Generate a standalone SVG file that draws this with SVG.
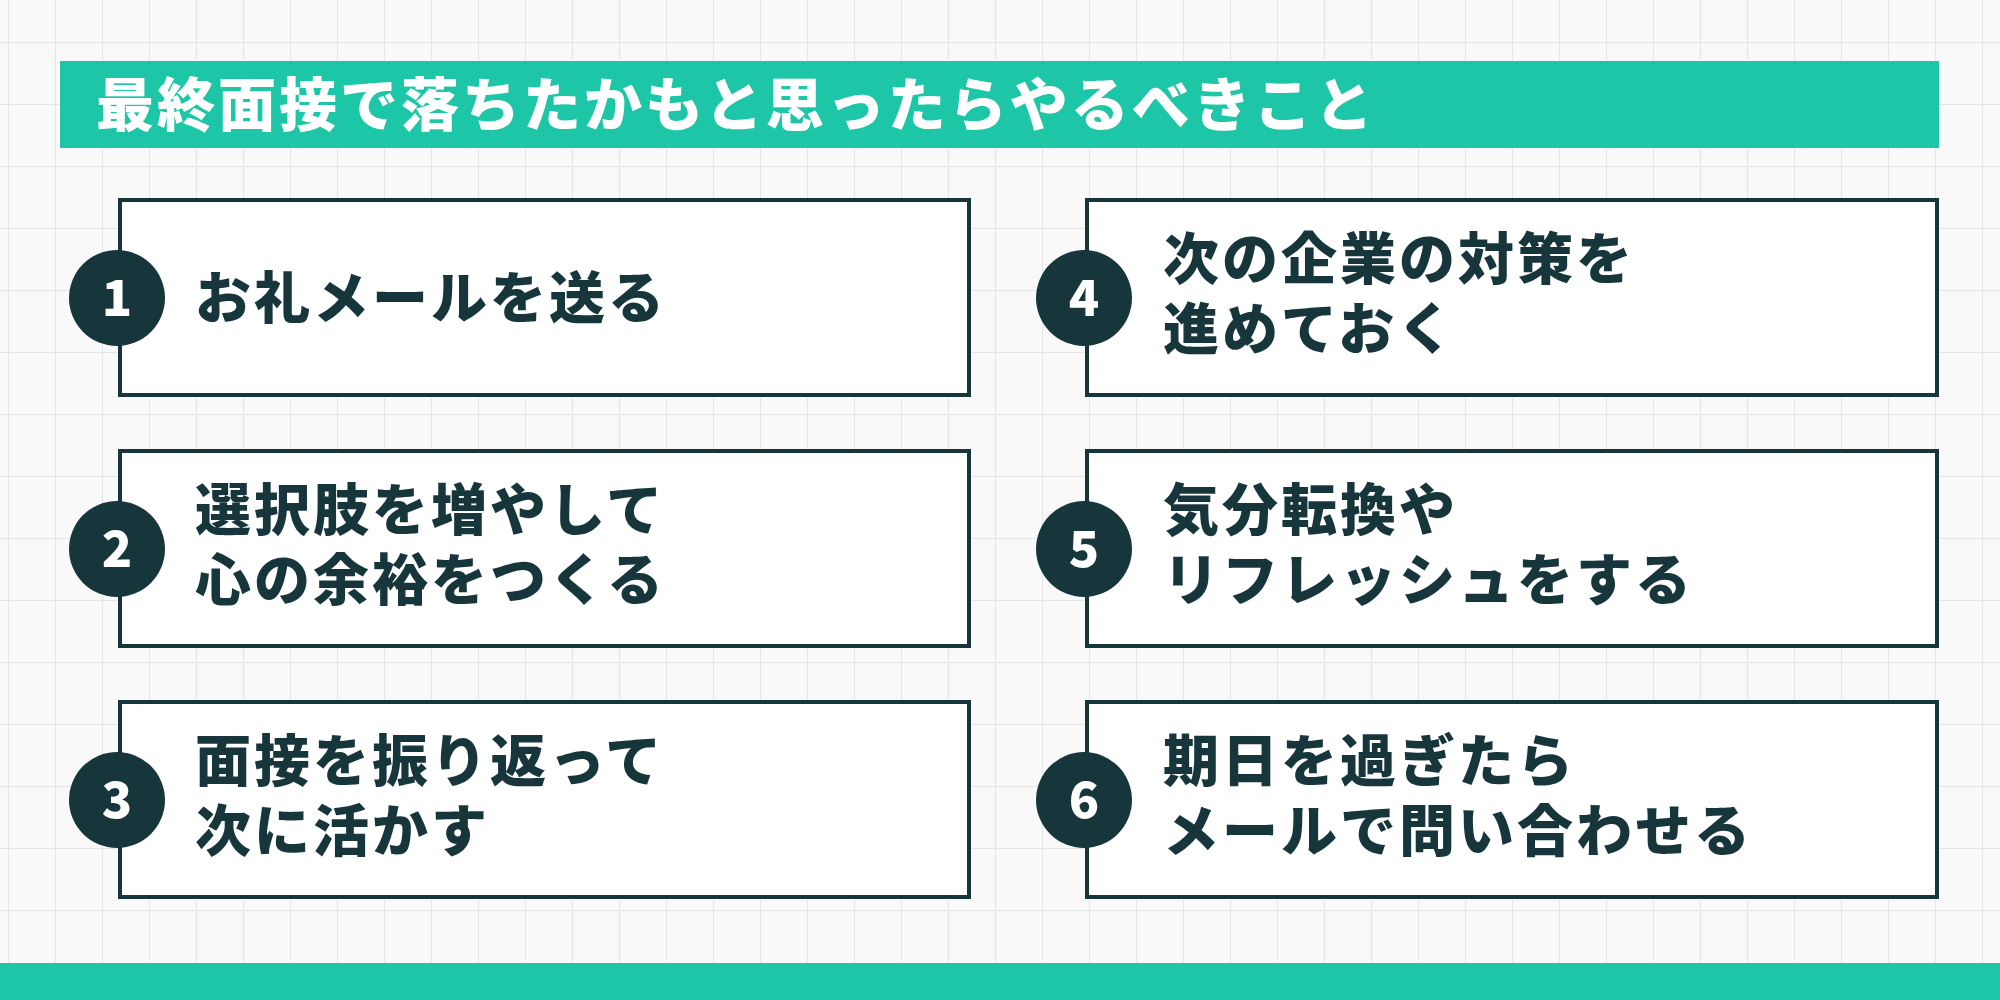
<svg xmlns="http://www.w3.org/2000/svg" width="2000" height="1000" viewBox="0 0 2000 1000">
<defs>
<pattern id="grid" x="8" y="-20" width="47" height="62" patternUnits="userSpaceOnUse">
<path d="M0 0V62M0 0H47" fill="none" stroke="#e4e6e6" stroke-width="2"/>
</pattern>
<style>
.box{fill:#fff;stroke:#16363b;stroke-width:4}
.num{fill:#16363b}
.nt{font-family:"Noto Sans CJK JP","Noto Sans",sans-serif;font-weight:900;font-size:50px;fill:#fff;text-anchor:middle}
.t{font-family:"Noto Sans CJK JP",sans-serif;font-weight:900;font-size:56px;letter-spacing:3px;fill:#16363b}
</style>
</defs>
<rect width="2000" height="1000" fill="#f9f9f9"/>
<rect width="2000" height="1000" fill="url(#grid)"/>
<g id="title">
<rect x="60" y="61" width="1879" height="87" fill="#1ec6a8"/>
<text x="96" y="126" style="font-family:'Noto Sans CJK JP',sans-serif;font-weight:900;font-size:58px;letter-spacing:3px;fill:#fff">最終面接で落ちたかもと思ったらやるべきこと</text>
</g>
<g id="item1"><rect class="box" x="120" y="200" width="849" height="195"/><circle class="num" cx="117" cy="298" r="48"/><text class="nt" x="117" y="316">1</text><text class="t" x="195" y="318">お礼メールを送る</text></g>
<g id="item2"><rect class="box" x="120" y="451" width="849" height="195"/><circle class="num" cx="117" cy="549" r="48"/><text class="nt" x="117" y="567">2</text><text class="t" x="195" y="530">選択肢を増やして</text><text class="t" x="195" y="600">心の余裕をつくる</text></g>
<g id="item3"><rect class="box" x="120" y="702" width="849" height="195"/><circle class="num" cx="117" cy="800" r="48"/><text class="nt" x="117" y="818">3</text><text class="t" x="195" y="781">面接を振り返って</text><text class="t" x="195" y="851">次に活かす</text></g>
<g id="item4"><rect class="box" x="1087" y="200" width="850" height="195"/><circle class="num" cx="1084" cy="298" r="48"/><text class="nt" x="1084" y="316">4</text><text class="t" x="1163" y="279">次の企業の対策を</text><text class="t" x="1163" y="349">進めておく</text></g>
<g id="item5"><rect class="box" x="1087" y="451" width="850" height="195"/><circle class="num" cx="1084" cy="549" r="48"/><text class="nt" x="1084" y="567">5</text><text class="t" x="1163" y="530">気分転換や</text><text class="t" x="1163" y="600">リフレッシュをする</text></g>
<g id="item6"><rect class="box" x="1087" y="702" width="850" height="195"/><circle class="num" cx="1084" cy="800" r="48"/><text class="nt" x="1084" y="818">6</text><text class="t" x="1163" y="781">期日を過ぎたら</text><text class="t" x="1163" y="851">メールで問い合わせる</text></g>
<g id="connectors"/>
<rect x="0" y="963" width="2000" height="37" fill="#1ec6a8"/>
</svg>
